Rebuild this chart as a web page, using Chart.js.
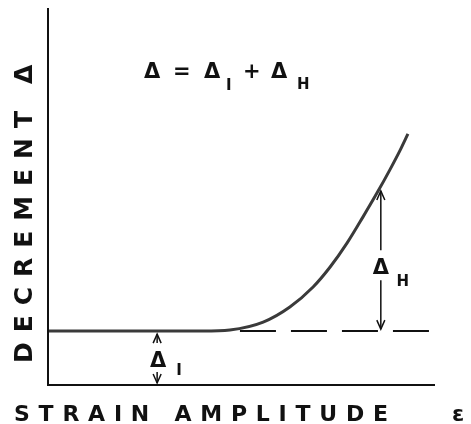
<!DOCTYPE html>
<html>
<head>
<meta charset="utf-8">
<script src="https://cdn.jsdelivr.net/npm/chart.js@4"></script>
<style>
  html, body { margin: 0; padding: 0; background: #fff; }
  #wrap { width: 471px; height: 424px; }
</style>
</head>
<body>
<div id="wrap"><canvas id="decrementChart" width="471" height="424"></canvas></div>
<script>
// strain amplitude (arbitrary units) vs. total decrement
const strainAmplitude = [0, 2.8, 4.0, 4.70, 5.56, 6.25, 6.85, 7.29, 7.73, 8.14, 8.50, 8.84, 9.10, 9.30];
const decrementTotal  = [1.43, 1.43, 1.43, 1.46, 1.67, 2.07, 2.60, 3.13, 3.77, 4.46, 5.09, 5.72, 6.23, 6.66];

// amplitude-independent level (dashed extension)
const intrinsicLevel = 1.43;
const dashedRange = [4.96, 9.87];

// annotation anchors
const deltaHx = 8.6, deltaHtop = 5.2, deltaHlabel = 3.15;
const deltaIx = 2.82;

const xTitle = 'STRAIN AMPLITUDE';
const xSymbol = 'ε';
const yTitle = 'DECREMENT';
const ySymbol = 'Δ';

function fitText(ctx, text, x, y, width) {
    ctx.letterSpacing = '0px';
    const w = ctx.measureText(text).width;
    const sp = (width - w) / (text.length - 1);
    ctx.letterSpacing = sp + 'px';
    ctx.fillText(text, x, y);
    ctx.letterSpacing = '0px';
}

function arrowHead(ctx, x, y, dir) {
    // dir = -1 up, 1 down
    ctx.beginPath();
    ctx.moveTo(x - 4, y - dir * 9);
    ctx.lineTo(x, y);
    ctx.lineTo(x + 4, y - dir * 9);
    ctx.stroke();
}

const sketchPlugin = {
    id: 'sketch',
    afterDraw(chart) {
        const ctx = chart.ctx;
        const { left, right, top, bottom } = chart.chartArea;
        const xs = chart.scales.x, ys = chart.scales.y;
        ctx.save();

        // axes
        ctx.strokeStyle = '#111';
        ctx.lineWidth = 2;
        ctx.beginPath();
        ctx.moveTo(left, top);
        ctx.lineTo(left, bottom);
        ctx.lineTo(right, bottom);
        ctx.stroke();

        ctx.fillStyle = '#111';
        ctx.textBaseline = 'alphabetic';

        // x title
        ctx.font = 'bold 22px "DejaVu Sans"';
        ctx.textAlign = 'left';
        fitText(ctx, xTitle, 14, 421, 374);
        ctx.fillText(xSymbol, 452, 421);

        // y title (rotated)
        ctx.save();
        ctx.translate(32, 363);
        ctx.rotate(-Math.PI / 2);
        ctx.font = 'bold 25px "DejaVu Sans"';
        fitText(ctx, yTitle, 0, 0, 252);
        ctx.fillText(ySymbol, 279, 0);
        ctx.restore();

        // equation
        ctx.font = 'bold 21px "DejaVu Sans"';
        ctx.fillText('Δ', 144, 78);
        ctx.fillText('=', 173, 78);
        ctx.fillText('Δ', 204, 78);
        ctx.fillText('+', 243, 78);
        ctx.fillText('Δ', 271, 78);
        ctx.font = 'bold 15px "DejaVu Sans"';
        ctx.fillText('I', 226, 90);
        ctx.fillText('H', 297, 89);

        // delta H arrows
        const hx = xs.getPixelForValue(deltaHx);
        const hTop = ys.getPixelForValue(deltaHtop);
        const hLab = ys.getPixelForValue(deltaHlabel);
        const base = ys.getPixelForValue(intrinsicLevel);
        ctx.lineWidth = 1.5;
        ctx.beginPath();
        ctx.moveTo(hx, hTop + 2);
        ctx.lineTo(hx, hLab - 16);
        ctx.moveTo(hx, hLab + 14);
        ctx.lineTo(hx, base - 2);
        ctx.stroke();
        arrowHead(ctx, hx, hTop + 2, -1);
        arrowHead(ctx, hx, base - 2, 1);
        ctx.font = 'bold 21px "DejaVu Sans"';
        ctx.textAlign = 'center';
        ctx.fillText('Δ', hx, hLab + 8);
        ctx.font = 'bold 15px "DejaVu Sans"';
        ctx.fillText('H', hx + 22, hLab + 20);

        // delta I arrows
        const ix = xs.getPixelForValue(deltaIx);
        ctx.beginPath();
        ctx.moveTo(ix, base + 3);
        ctx.lineTo(ix, base + 12);
        ctx.moveTo(ix, base + 41);
        ctx.lineTo(ix, bottom - 2);
        ctx.stroke();
        arrowHead(ctx, ix, base + 3, -1);
        arrowHead(ctx, ix, bottom - 2, 1);
        ctx.font = 'bold 21px "DejaVu Sans"';
        ctx.fillText('Δ', ix + 1, base + 36);
        ctx.font = 'bold 15px "DejaVu Sans"';
        ctx.fillText('I', ix + 22, base + 44);

        ctx.restore();
    }
};

new Chart(document.getElementById('decrementChart'), {
    type: 'scatter',
    data: {
        datasets: [
            {
                label: 'Δ',
                data: strainAmplitude.map((x, i) => ({ x, y: decrementTotal[i] })),
                showLine: true,
                borderColor: '#3a3a3a',
                borderWidth: 3,
                pointRadius: 0,
                cubicInterpolationMode: 'monotone'
            },
            {
                label: 'ΔI',
                data: dashedRange.map(x => ({ x, y: intrinsicLevel })),
                showLine: true,
                borderColor: '#111',
                borderWidth: 2,
                borderDash: [36, 15],
                pointRadius: 0
            }
        ]
    },
    options: {
        responsive: false,
        animation: false,
        layout: { padding: { left: 48, right: 36, top: 8, bottom: 39 } },
        plugins: { legend: { display: false }, tooltip: { enabled: false } },
        scales: {
            x: { type: 'linear', min: 0, max: 10, display: false },
            y: { type: 'linear', min: 0, max: 10, display: false }
        }
    },
    plugins: [sketchPlugin]
});
</script>
</body>
</html>
